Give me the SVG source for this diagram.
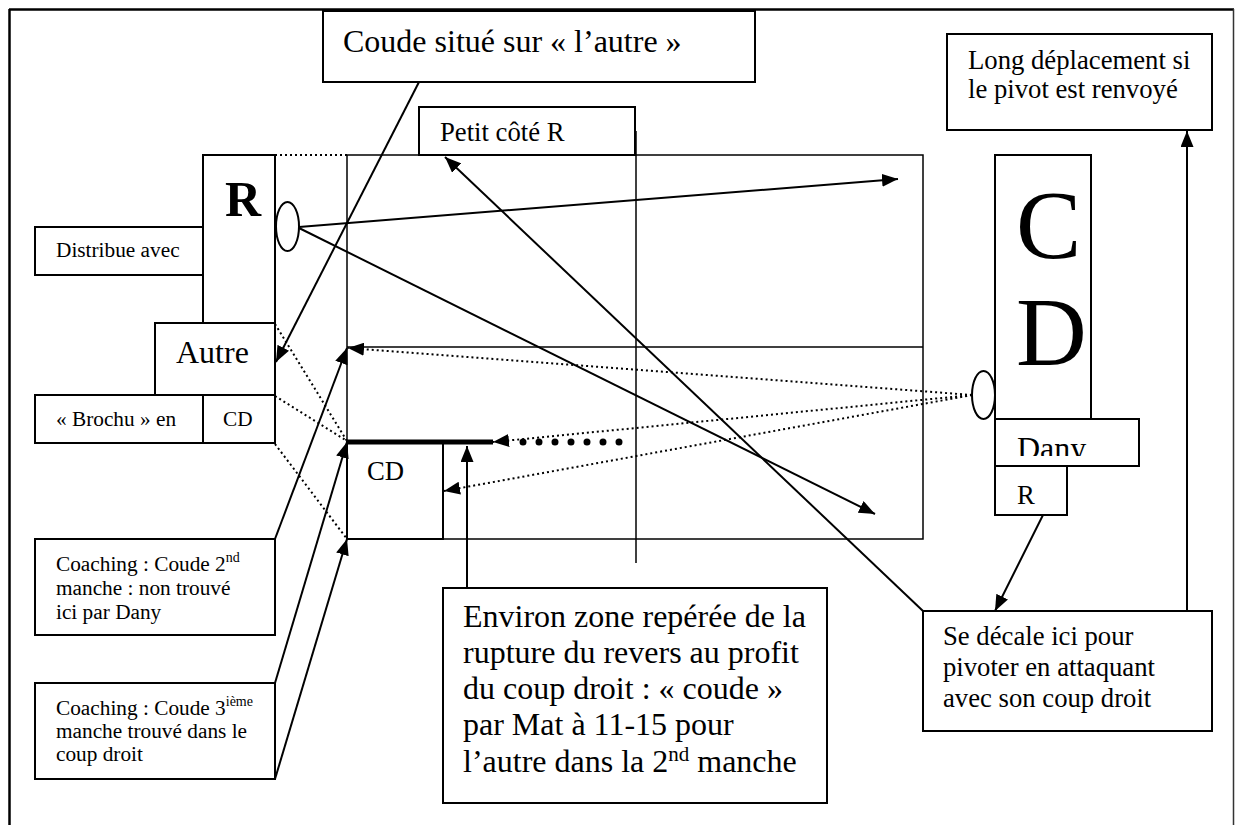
<svg xmlns="http://www.w3.org/2000/svg" width="1236" height="825" viewBox="0 0 1236 825">
<style>
.box{fill:#fff;stroke:#000;stroke-width:2}
.ln{fill:none;stroke:#000;stroke-width:1.5}
.ar{fill:none;stroke:#000;stroke-width:2;marker-end:url(#ah)}
.dt{fill:none;stroke:#000;stroke-width:2;stroke-dasharray:2 3}
.dta{fill:none;stroke:#000;stroke-width:2;stroke-dasharray:2 3;marker-end:url(#ah)}
text{font-family:"Liberation Serif","Times New Roman",serif;fill:#000}
.s{font-size:21.3px}
.m{font-size:26.7px}
.l{font-size:32px}
</style>
<defs>
<marker id="ah" markerUnits="userSpaceOnUse" markerWidth="16" markerHeight="13" refX="16" refY="6.5" orient="auto">
<path d="M0,0 L16,6.5 L0,13 z" fill="#000"/>
</marker>
<clipPath id="danyclip"><rect x="995" y="419" width="144" height="37"/></clipPath>
</defs>
<rect width="1236" height="825" fill="#fff"/>
<g id="frame">
<line x1="9" y1="9.5" x2="1234" y2="9.5" stroke="#000" stroke-width="2.5"/>
<line x1="9.5" y1="9" x2="9.5" y2="825" stroke="#000" stroke-width="2.5"/>
<line x1="1233.5" y1="9" x2="1233.5" y2="825" stroke="#333" stroke-width="1.5"/>
</g>
<g id="court">
<rect x="347" y="155" width="576" height="384" class="ln"/>
<line x1="347" y1="347" x2="923" y2="347" class="ln"/>
<line x1="636" y1="131" x2="636" y2="563" class="ln"/>
</g>
<g id="petit-cote">
<rect x="419" y="107" width="216" height="48" class="box"/>
<text x="440" y="141" class="m">Petit côté R</text>
</g>
<g id="coude-autre">
<rect x="323" y="11" width="432" height="71" class="box"/>
<text x="343" y="52" class="l">Coude situé sur « l’autre »</text>
</g>
<g id="long-deplacement">
<rect x="947" y="34" width="265" height="96" class="box"/>
<text x="968" y="69" class="m">Long déplacement si</text>
<text x="968" y="98" class="m">le pivot est renvoyé</text>
</g>
<g id="joueur-R">
<rect x="203" y="155" width="72" height="168" class="box"/>
<text x="243" y="216" font-size="50" font-weight="bold" text-anchor="middle">R</text>
<ellipse cx="287.5" cy="226.5" rx="11.5" ry="24.5" class="box"/>
</g>
<g id="distribue">
<rect x="35" y="227" width="168" height="48" class="box"/>
<text x="56" y="257" class="s">Distribue avec</text>
</g>
<g id="autre">
<rect x="155" y="323" width="120" height="72" class="box"/>
<text x="176" y="363" class="l">Autre</text>
</g>
<g id="brochu">
<rect x="35" y="395" width="168" height="48" class="box"/>
<text x="56" y="426" class="s">« Brochu » en</text>
</g>
<g id="brochu-cd">
<rect x="203" y="395" width="72" height="48" class="box"/>
<text x="223" y="426" class="s">CD</text>
</g>
<g id="zone-cd">
<rect x="347" y="442" width="96" height="97" class="box"/>
<text x="367" y="480" class="m">CD</text>
</g>
<g id="joueur-CD">
<rect x="995" y="155" width="96" height="264" class="box"/>
<text x="1016" y="258" font-size="98">C</text>
<text x="1016" y="365" font-size="98">D</text>
<ellipse cx="983.5" cy="395" rx="11.5" ry="24" class="box"/>
</g>
<g id="dany">
<rect x="995" y="419" width="144" height="47" class="box"/>
<text x="1017" y="459" class="l" clip-path="url(#danyclip)">Dany</text>
</g>
<g id="dany-R">
<rect x="995" y="466" width="72" height="49" class="box"/>
<text x="1017" y="504" class="m">R</text>
</g>
<g id="coaching-2">
<rect x="35" y="539" width="240" height="96" class="box"/>
<text x="56" y="571" class="s">Coaching : Coude 2<tspan font-size="14" dy="-9">nd</tspan></text>
<text x="56" y="595" class="s">manche : non trouvé</text>
<text x="56" y="619" class="s">ici par Dany</text>
</g>
<g id="coaching-3">
<rect x="35" y="683" width="240" height="96" class="box"/>
<text x="56" y="715" class="s">Coaching : Coude 3<tspan font-size="14" dy="-9">ième</tspan></text>
<text x="56" y="738" class="s">manche trouvé dans le</text>
<text x="56" y="761" class="s">coup droit</text>
</g>
<g id="environ">
<rect x="443" y="588" width="384" height="215" class="box"/>
<text x="463" y="627" class="l">Environ zone repérée de la</text>
<text x="463" y="663" class="l">rupture du revers au profit</text>
<text x="463" y="699" class="l">du coup droit : « coude »</text>
<text x="463" y="735" class="l">par Mat à 11-15 pour</text>
<text x="463" y="772" class="l">l’autre dans la 2<tspan font-size="21" dy="-11">nd</tspan><tspan dy="11"> manche</tspan></text>
</g>
<g id="se-decale">
<rect x="923" y="611" width="289" height="120" class="box"/>
<text x="943" y="645" class="m">Se décale ici pour</text>
<text x="943" y="676" class="m">pivoter en attaquant</text>
<text x="943" y="707" class="m">avec son coup droit</text>
</g>
<g id="connectors">
<line x1="275" y1="155" x2="347" y2="155" class="dt"/>
<line x1="275" y1="324" x2="347" y2="441" class="dt"/>
<line x1="275" y1="396" x2="347" y2="441" class="dt"/>
<line x1="275" y1="444" x2="347" y2="539" class="dt"/>
<line x1="419" y1="82" x2="276" y2="362" class="ar"/>
<line x1="299" y1="227" x2="898" y2="179" class="ar"/>
<line x1="299" y1="228" x2="875" y2="514" class="ar"/>
<line x1="923" y1="611" x2="445" y2="157" class="ar"/>
<line x1="1043" y1="515" x2="995" y2="611" class="ar"/>
<line x1="1187" y1="611" x2="1187" y2="131" class="ar"/>
<line x1="467" y1="588" x2="467" y2="446" class="ar"/>
<line x1="275" y1="539" x2="347" y2="348" class="ar"/>
<line x1="275" y1="683" x2="347" y2="442" class="ar"/>
<line x1="275" y1="779" x2="347" y2="539" class="ar"/>
<line x1="347" y1="442" x2="493" y2="442" stroke="#000" stroke-width="5"/>
<line x1="972" y1="395" x2="348" y2="348" class="dta"/>
<line x1="972" y1="395" x2="493" y2="442" class="dta"/>
<line x1="972" y1="395" x2="444" y2="491" class="dta"/>
<line x1="523" y1="442" x2="620" y2="442" stroke="#000" stroke-width="7" stroke-linecap="round" stroke-dasharray="0 16"/>
</g>
</svg>
